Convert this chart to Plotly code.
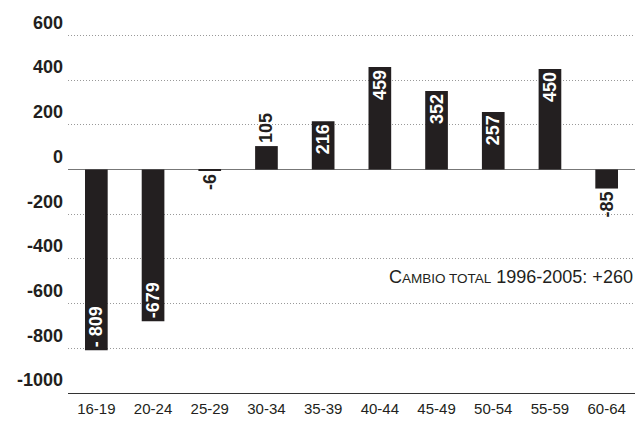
import plotly.graph_objects as go

categories = ["16-19", "20-24", "25-29", "30-34", "35-39", "40-44", "45-49", "50-54", "55-59", "60-64"]
values = [-809, -679, -6, 105, 216, 459, 352, 257, 450, -85]
labels = ["- 809", "-679", "-6", "105", "216", "459", "352", "257", "450", "-85"]
label_pos = ["inside", "inside", "outside", "outside", "inside", "inside", "inside", "inside", "inside", "outside"]
y_ticks = [-1000, -800, -600, -400, -200, 0, 200, 400, 600]
y_tick_text = ["-1000", "-800", "-600", "-400", "-200", "0", "200", "400", "600"]

DARK = "#231f20"
FONT = "Liberation Sans, Arial, Helvetica, sans-serif"

fig = go.Figure(go.Bar(
    x=categories, y=values,
    text=labels, textposition=label_pos, textangle=-90,
    insidetextanchor="end",
    constraintext="none",
    marker=dict(color=DARK, line=dict(width=0)),
    insidetextfont=dict(family=FONT, size=18, color="white", weight="bold"),
    outsidetextfont=dict(family=FONT, size=18, color=DARK, weight="bold"),
    cliponaxis=False,
    hoverinfo="skip",
))

fig.update_layout(
    width=639, height=421,
    margin=dict(l=68, r=4, t=31, b=22),
    paper_bgcolor="white", plot_bgcolor="white",
    bargap=0.6,
    showlegend=False,
    font=dict(family=FONT, color=DARK),
)

fig.update_xaxes(
    showgrid=False, showline=True, linecolor="#333333", linewidth=1.2,
    ticks="", tickfont=dict(family=FONT, size=15, color=DARK),
    ticklabelstandoff=2,
)
fig.update_yaxes(
    range=[-1000, 620], tickvals=y_ticks, ticktext=y_tick_text,
    showgrid=True, gridcolor="#999999", griddash="1px,2px", gridwidth=1,
    zeroline=True, zerolinecolor="#777777", zerolinewidth=1.2,
    ticks="", tickfont=dict(family=FONT, size=18, color=DARK, weight="bold"),
    ticklabelshift=-13, ticklabelstandoff=4,
)

fig.add_annotation(
    xref="paper", x=1.0, xanchor="right",
    yref="y", y=-483, yanchor="middle",
    text='C<span style="font-size:13.5px">AMBIO TOTAL</span> 1996-2005: +260',
    showarrow=False,
    font=dict(family=FONT, size=18, color=DARK),
)

fig.write_html("out.html", config={"displayModeBar": False},
               post_script="document.body.style.margin='0';document.body.style.overflow='hidden';")
